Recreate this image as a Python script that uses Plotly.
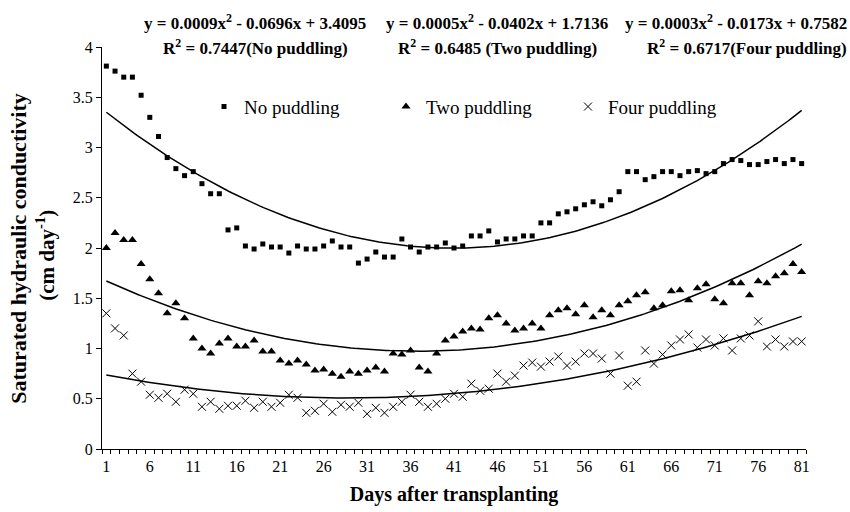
import numpy as np
import plotly.graph_objects as go

days = list(range(1, 82))

no_puddling = [3.81, 3.76, 3.70, 3.70, 3.52, 3.30, 3.11, 2.90, 2.79, 2.72,
               2.76, 2.64, 2.54, 2.54, 2.18, 2.20, 2.02, 1.99, 2.04, 2.01,
               2.01, 1.95, 2.02, 1.99, 1.99, 2.02, 2.07, 2.01, 2.01, 1.85,
               1.89, 1.96, 1.91, 1.91, 2.09, 2.01, 1.96, 2.01, 2.01, 2.05,
               2.00, 2.02, 2.12, 2.12, 2.17, 2.06, 2.09, 2.09, 2.12, 2.12,
               2.25, 2.25, 2.34, 2.36, 2.39, 2.43, 2.46, 2.42, 2.48, 2.56,
               2.76, 2.76, 2.68, 2.71, 2.76, 2.76, 2.72, 2.76, 2.77, 2.74,
               2.76, 2.84, 2.88, 2.87, 2.83, 2.83, 2.86, 2.88, 2.84, 2.88,
               2.84]

two_puddling = [2.00, 2.15, 2.08, 2.08, 1.84, 1.69, 1.55, 1.35, 1.45, 1.30,
                1.10, 1.00, 0.95, 1.05, 1.10, 1.02, 1.02, 1.08, 0.97, 0.97,
                0.88, 0.85, 0.88, 0.84, 0.78, 0.79, 0.75, 0.72, 0.77, 0.75,
                0.78, 0.81, 0.77, 0.95, 0.94, 0.98, 0.81, 0.77, 0.95, 1.08,
                1.12, 1.17, 1.20, 1.19, 1.30, 1.33, 1.25, 1.18, 1.20, 1.25,
                1.20, 1.33, 1.38, 1.40, 1.34, 1.43, 1.31, 1.38, 1.33, 1.43,
                1.47, 1.53, 1.56, 1.40, 1.43, 1.57, 1.58, 1.48, 1.60, 1.64,
                1.49, 1.45, 1.65, 1.65, 1.53, 1.67, 1.65, 1.72, 1.75, 1.84,
                1.76]

four_puddling = [1.35, 1.20, 1.13, 0.75, 0.67, 0.54, 0.51, 0.55, 0.47, 0.59,
                 0.55, 0.42, 0.47, 0.40, 0.43, 0.43, 0.48, 0.41, 0.47, 0.42,
                 0.46, 0.54, 0.51, 0.36, 0.38, 0.45, 0.37, 0.44, 0.42, 0.46,
                 0.35, 0.41, 0.36, 0.42, 0.47, 0.54, 0.47, 0.42, 0.45, 0.50,
                 0.55, 0.52, 0.65, 0.58, 0.60, 0.75, 0.67, 0.73, 0.83, 0.86,
                 0.82, 0.87, 0.92, 0.83, 0.87, 0.95, 0.95, 0.90, 0.75, 0.93,
                 0.63, 0.67, 0.98, 0.85, 0.94, 1.03, 1.09, 1.14, 1.01, 1.09,
                 1.03, 1.10, 0.98, 1.10, 1.13, 1.27, 1.02, 1.09, 1.02, 1.07,
                 1.07]

series_names = ["No puddling", "Two puddling", "Four puddling"]
eq_line1 = [
    "<b>y = 0.0009x<sup>2</sup> - 0.0696x + 3.4095</b>",
    "<b>y = 0.0005x<sup>2</sup> - 0.0402x + 1.7136</b>",
    "<b>y = 0.0003x<sup>2</sup> - 0.0173x + 0.7582</b>",
]
eq_line2 = [
    "<b>R<sup>2</sup> = 0.7447(No puddling)</b>",
    "<b>R<sup>2</sup> = 0.6485 (Two puddling)</b>",
    "<b>R<sup>2</sup> = 0.6717(Four puddling)</b>",
]
xtick_vals = list(range(1, 82, 5))

FONT = "Liberation Serif"
fig = go.Figure()

markers = [
    dict(symbol="square", size=5, color="black"),
    dict(symbol="triangle-up", size=8, color="black"),
    dict(symbol="x-thin", size=8, color="black", line=dict(width=1, color="black")),
]
series = [no_puddling, two_puddling, four_puddling]

for name, vals, mk in zip(series_names, series, markers):
    fig.add_trace(go.Scatter(x=days, y=vals, mode="markers", name=name,
                             marker=mk))

xx = np.linspace(1, 81, 200)
for vals in series:
    coef = np.polyfit(days, vals, 2)
    fig.add_trace(go.Scatter(x=xx, y=np.polyval(coef, xx), mode="lines",
                             line=dict(color="black", width=1.5),
                             showlegend=False, hoverinfo="skip"))

# helpers: pixel -> paper coordinates
L, W, T, H = 102, 704, 47.3, 402
def px(xp):
    return (xp - L) / W
def py(yp):
    return (T + H - yp) / H

eq1_x = [255, 497, 736]
eq2_x = [255, 497, 747]
for t1, t2, x1, x2 in zip(eq_line1, eq_line2, eq1_x, eq2_x):
    fig.add_annotation(text=t1, x=px(x1), y=py(22), xref="paper", yref="paper",
                       xanchor="center", yanchor="middle", showarrow=False,
                       font=dict(family=FONT, size=17, color="black"))
    fig.add_annotation(text=t2, x=px(x2), y=py(47), xref="paper", yref="paper",
                       xanchor="center", yanchor="middle", showarrow=False,
                       font=dict(family=FONT, size=17, color="black"))

fig.add_annotation(text="<b>Saturated hydraulic conductivity</b>",
                   x=px(19), y=py(249), xref="paper", yref="paper",
                   textangle=-90, showarrow=False, xanchor="center", yanchor="middle",
                   font=dict(family=FONT, size=22, color="black"))
fig.add_annotation(text="<b>(cm day<sup>-1</sup>)</b>",
                   x=px(46), y=py(256), xref="paper", yref="paper",
                   textangle=-90, showarrow=False, xanchor="center", yanchor="middle",
                   font=dict(family=FONT, size=21, color="black"))

fig.update_layout(
    width=850, height=512,
    margin=dict(l=102, r=44, t=47, b=63),
    paper_bgcolor="white", plot_bgcolor="white",
    font=dict(family=FONT, size=16, color="black"),
    showlegend=True,
    legend=dict(orientation="h", x=px(204), y=py(107), xanchor="left", yanchor="middle",
                font=dict(family=FONT, size=19, color="black"),
                bgcolor="rgba(0,0,0,0)", entrywidth=137, entrywidthmode="pixels"),
    xaxis=dict(range=[0.5, 81.5], tickmode="array", tickvals=xtick_vals,
               ticktext=[str(v) for v in xtick_vals], ticks="",
               showgrid=False, zeroline=False, showline=True, linecolor="black",
               linewidth=1, ticklabelstandoff=3,
               minor=dict(tick0=0.5, dtick=1, ticks="outside", ticklen=4,
                          tickcolor="black", showgrid=False),
               title=dict(text="<b>Days after transplanting</b>", standoff=12,
                          font=dict(family=FONT, size=20, color="black")),
               tickfont=dict(family=FONT, size=16, color="black")),
    yaxis=dict(range=[0, 4], dtick=0.5, tick0=0, ticks="outside", ticklen=5,
               tickcolor="black", showgrid=False, zeroline=False, showline=True,
               linecolor="black", linewidth=1,
               tickfont=dict(family=FONT, size=16, color="black")),
)

fig.write_html("out.html", config={"displayModeBar": False},
               post_script="document.body.style.margin='0';")
